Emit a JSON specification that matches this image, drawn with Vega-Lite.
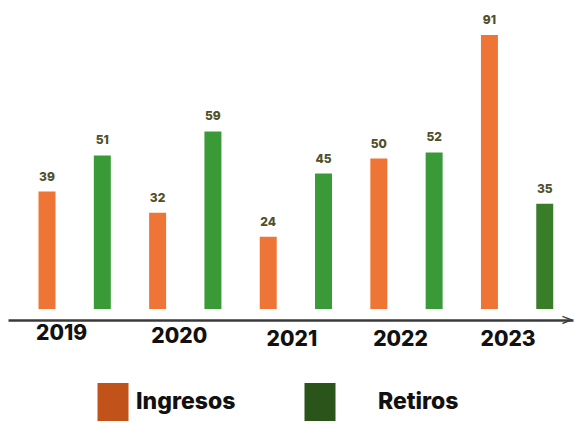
{
  "$schema": "https://vega.github.io/schema/vega-lite/v6.json",
  "width": 565,
  "height": 301,
  "autosize": {"type": "none"},
  "padding": {"left": 8, "top": 8, "right": 1, "bottom": 114},
  "background": "white",
  "config": {
    "view": {"stroke": null},
    "font": "Inter",
    "axisX": {
      "title": null,
      "offset": 11,
      "domainColor": "#3a3a3a",
      "domainWidth": 2.5,
      "ticks": false,
      "grid": false,
      "labelAngle": 0,
      "labelFont": "Inter",
      "labelFontSize": 21,
      "labelFontWeight": 800,
      "labelColor": "#111111",
      "labelBaseline": "top"
    }
  },
  "data": {
    "values": [
      {"anio": "2019", "serie": "Ingresos", "valor": 39},
      {"anio": "2019", "serie": "Retiros", "valor": 51},
      {"anio": "2020", "serie": "Ingresos", "valor": 32},
      {"anio": "2020", "serie": "Retiros", "valor": 59},
      {"anio": "2021", "serie": "Ingresos", "valor": 24},
      {"anio": "2021", "serie": "Retiros", "valor": 45},
      {"anio": "2022", "serie": "Ingresos", "valor": 50},
      {"anio": "2022", "serie": "Retiros", "valor": 52},
      {"anio": "2023", "serie": "Ingresos", "valor": 91},
      {"anio": "2023", "serie": "Retiros", "valor": 35}
    ]
  },
  "layer": [
    {
      "mark": {"type": "bar"},
      "encoding": {
        "x": {
          "field": "anio", "type": "nominal", "title": null,
          "scale": {"paddingInner": 0, "paddingOuter": 0.054, "align": 0.95},
          "axis": {
            "title": null,
            "labelOffset": {"expr": "datum.value=='2019'?-13:datum.value=='2020'?-6:datum.value=='2021'?-4:datum.value=='2022'?-6:-9"},
            "labelPadding": {"expr": "datum.value=='2019'?2:datum.value=='2020'?5:8"}
          }
        },
        "xOffset": {
          "field": "serie", "type": "nominal",
          "scale": {"domain": ["Ingresos", "Retiros"], "paddingInner": 0.693, "paddingOuter": 0.3465}
        },
        "y": {
          "field": "valor", "type": "quantitative",
          "scale": {"domain": [0, 100], "nice": false},
          "axis": null
        },
        "fill": {
          "condition": {"test": "datum.anio=='2023' && datum.serie=='Retiros'", "value": "#3a7d29"},
          "field": "serie", "type": "nominal",
          "scale": {"range": ["#ee7535", "#3a9a37"]},
          "legend": null
        }
      }
    },
    {
      "mark": {"type": "text", "dy": -11, "baseline": "alphabetic", "fontSize": 12, "fontWeight": 800, "color": "#4f4f2a", "font": "Inter"},
      "encoding": {
        "x": {"field": "anio", "type": "nominal", "title": null},
        "xOffset": {"field": "serie", "type": "nominal"},
        "y": {"field": "valor", "type": "quantitative"},
        "text": {"field": "valor", "type": "quantitative"}
      }
    },
    {
      "data": {"values": [{"anio": "2023"}]},
      "mark": {"type": "text", "text": ">", "align": "right", "baseline": "middle", "dy": 11, "dx": 1, "fontSize": 15, "font": "DejaVu Sans", "color": "#3a3a3a"},
      "encoding": {
        "x": {"field": "anio", "type": "nominal", "bandPosition": 1, "title": null},
        "y": {"datum": 0, "type": "quantitative"}
      }
    },
    {
      "data": {"values": [{"leyenda": "Ingresos"}, {"leyenda": "Retiros"}]},
      "mark": {"type": "point", "filled": true, "opacity": 1, "size": 0},
      "encoding": {
        "color": {
          "field": "leyenda", "type": "nominal",
          "scale": {"domain": ["Ingresos", "Retiros"], "range": ["#c1521a", "#2a5419"]},
          "legend": {
            "title": null,
            "orient": "none",
            "legendX": 86,
            "legendY": 375,
            "direction": "horizontal",
            "symbolType": "M-0.816,-1H0.816V1H-0.816Z",
            "symbolSize": 1444,
            "symbolStrokeWidth": 0,
            "symbolOpacity": 1,
            "labelFont": "Inter",
            "labelFontSize": 23,
            "labelFontWeight": 800,
            "labelColor": "#111111",
            "labelOffset": 4,
            "columnPadding": 65,
            "encode": {
              "labels": {
                "update": {
                  "dx": {"signal": "datum.value=='Retiros'?35:0"}
                }
              }
            }
          }
        }
      }
    }
  ]
}
